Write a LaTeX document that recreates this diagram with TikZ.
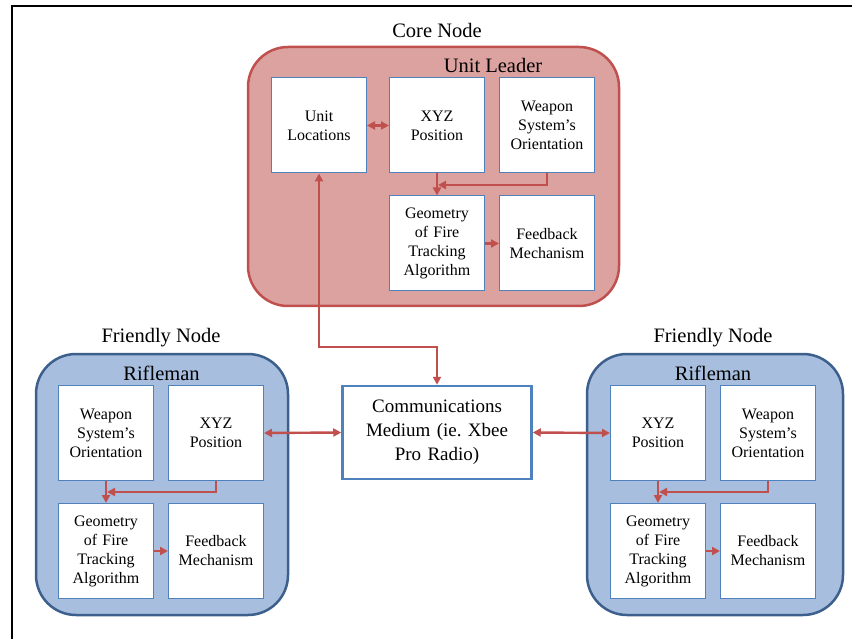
\documentclass[tikz,border=0pt]{standalone}
\usepackage{fontspec}
\setmainfont{Liberation Serif}
\usetikzlibrary{arrows.meta}
\frenchspacing
\definecolor{corefill}{RGB}{220,162,160}
\definecolor{coreborder}{RGB}{192,80,77}
\definecolor{bluefill}{RGB}{167,190,222}
\definecolor{blueborder}{RGB}{60,95,140}
\definecolor{boxblue}{RGB}{79,129,189}
\definecolor{arrred}{RGB}{192,80,77}
\tikzset{
  box/.style={draw=boxblue, line width=1pt, fill=white, minimum width=95pt, minimum height=95pt,
    inner sep=0pt, align=center, text width=90pt, font=\fontsize{16}{19}\selectfont},
  corebox/.style={draw=coreborder, line width=2.5pt, fill=corefill, rounded corners=40pt, inner sep=0pt},
  friendbox/.style={draw=blueborder, line width=2.5pt, fill=bluefill, rounded corners=40pt, inner sep=0pt},
  title/.style={inner sep=0pt, font=\fontsize{20.5}{24}\selectfont},
  commbox/.style={draw=boxblue, line width=2.5pt, fill=white, minimum width=189pt, minimum height=93pt,
    inner sep=0pt, align=center, text width=180pt, font=\fontsize{19}{24}\selectfont},
  tip/.tip={Triangle[length=8pt,width=8pt]},
  arr/.style={draw=arrred, line width=2.4pt, -tip},
  darr/.style={draw=arrred, line width=2.4pt, tip-tip},
}
\begin{document}
\begin{tikzpicture}[x=1pt,y=-1pt]
\useasboundingbox (0,0) rectangle (852,639);
% frame
\draw[line width=2pt] (11.5,639) -- (11.5,6.5) -- (852,6.5);

% Core node
\node[title] (corelbl) at (437,30) {Core Node};
\node[corebox, minimum width=371pt, minimum height=259pt] (core) at (433.5,176.5) {};
\node[title] (ulbl) at (493,65) {Unit Leader};
\node[box] (ul) at (319,125.5) {Unit\\Locations};
\node[box] (cxyz) at (437,125.5) {XYZ\\Position};
\node[box] (cwsp) at (547,125.5) {Weapon\\System’s\\Orientation};
\node[box] (cgeo) at (437,243.5) {Geometry\\of Fire\\Tracking\\Algorithm};
\node[box] (cfb) at (547,243.5) {Feedback\\Mechanism};

% Left friendly node
\node[title] (lflbl) at (161,338) {Friendly Node};
\node[friendbox, minimum width=252pt, minimum height=261pt] (lf) at (162,484.5) {};
\node[title] (lrlbl) at (161.5,373) {Rifleman};
\node[box] (lwsp) at (106,433) {Weapon\\System’s\\Orientation};
\node[box] (lxyz) at (216,433) {XYZ\\Position};
\node[box] (lgeo) at (106,551) {Geometry\\of Fire\\Tracking\\Algorithm};
\node[box] (lfb) at (216,551) {Feedback\\Mechanism};

% Right friendly node
\node[title] (rflbl) at (713,338) {Friendly Node};
\node[friendbox, minimum width=256pt, minimum height=261pt] (rf) at (715,484.5) {};
\node[title] (rrlbl) at (713,373) {Rifleman};
\node[box] (rxyz) at (658,433) {XYZ\\Position};
\node[box] (rwsp) at (768,433) {Weapon\\System’s\\Orientation};
\node[box] (rgeo) at (658,551) {Geometry\\of Fire\\Tracking\\Algorithm};
\node[box] (rfb) at (768,551) {Feedback\\Mechanism};

% Communications
\node[commbox] (comm) at (437,432.5) {Communications\\Medium (ie. Xbee\\Pro Radio)};

% junction coordinates
\coordinate (cj) at (438,185);
\coordinate (lj) at (107,492);
\coordinate (rj) at (659,492);
\coordinate (bend) at (319,347);

% core arrows
\draw[darr] (ul) -- (cxyz);
\draw[arr] (cxyz) -- (cgeo);
\draw[arr] (cwsp.south) |- (cj);
\draw[arr] (cgeo) -- (cfb);

% left arrows
\draw[arr] (lwsp) -- (lgeo);
\draw[arr] (lxyz.south) |- (lj);
\draw[arr] (lgeo) -- (lfb);

% right arrows
\draw[arr] (rxyz) -- (rgeo);
\draw[arr] (rwsp.south) |- (rj);
\draw[arr] (rgeo) -- (rfb);

% communication links
\draw[darr] (ul.south) -- (bend) -| (comm.north);
\draw[darr] (lxyz.east) -- (comm.west);
\draw[darr] (comm.east) -- (rxyz.west);
\end{tikzpicture}
\end{document}
